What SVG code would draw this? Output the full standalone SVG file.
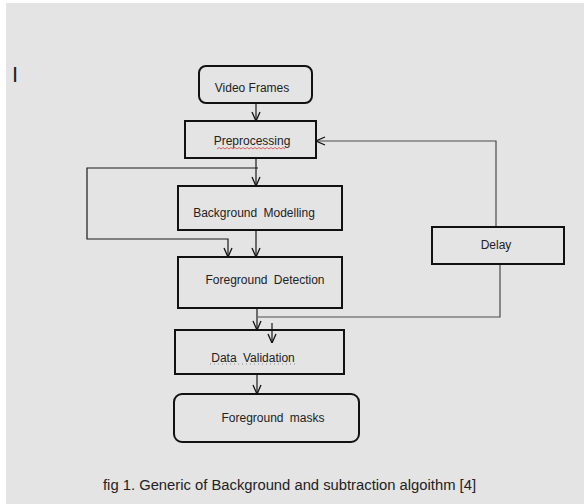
<svg xmlns="http://www.w3.org/2000/svg" width="584" height="504" viewBox="0 0 584 504">
  <defs>
    <marker id="arr" viewBox="0 0 10 10" refX="10" refY="5" markerWidth="10" markerHeight="10" markerUnits="userSpaceOnUse" orient="auto">
      <path d="M1,1 L10,5 L1,9" fill="none" stroke="#111" stroke-width="1.3"/>
    </marker>
    <style>
      .box { fill: none; stroke: #111; stroke-width: 2; }
      .lbl { font-family: "Liberation Sans", Arial, sans-serif; font-size: 12px; fill: #222; }
      .con { fill: none; stroke: #1a1a1a; stroke-width: 1.2; }
      .fb { fill: none; stroke: #4a4a4a; stroke-width: 1.2; }
    </style>
  </defs>
  <rect x="0" y="0" width="584" height="504" fill="#ffffff"/>
  <rect x="6" y="3" width="578" height="501" fill="#e4e4e4"/>

  <text x="12" y="82" font-family="Liberation Sans, Arial, sans-serif" font-size="22" fill="#222">I</text>

  <g id="connectors">
    <path class="con" d="M256,103 V121" marker-end="url(#arr)"/>
    <path class="con" d="M256,158 V186" marker-end="url(#arr)"/>
    <path class="con" d="M258,168 H87 V239 H228 V257" marker-end="url(#arr)"/>
    <path class="con" d="M256,230 V257" marker-end="url(#arr)"/>
    <path class="con" d="M257,308 V330" marker-end="url(#arr)"/>
    <path class="con" d="M272,323 V343" marker-end="url(#arr)"/>
    <path class="con" d="M257,374 V394" marker-end="url(#arr)"/>
    <path class="fb" d="M496,227 V141 H316" marker-end="url(#arr)"/>
    <path class="fb" d="M500,264 V317 H258"/>
  </g>

  <g id="video-frames">
    <rect class="box" x="199" y="66" width="113" height="37" rx="7"/>
    <text class="lbl" x="252" y="92" text-anchor="middle">Video Frames</text>
  </g>

  <g id="preprocessing">
    <rect class="box" x="185" y="121" width="131" height="37"/>
    <text class="lbl" x="252" y="145" text-anchor="middle">Preprocessing</text>
    <path d="M217,149 l2,-1.5 l2,1.5 l2,-1.5 l2,1.5 l2,-1.5 l2,1.5 l2,-1.5 l2,1.5 l2,-1.5 l2,1.5 l2,-1.5 l2,1.5 l2,-1.5 l2,1.5 l2,-1.5 l2,1.5 l2,-1.5 l2,1.5 l2,-1.5 l2,1.5 l2,-1.5 l2,1.5 l2,-1.5 l2,1.5 l2,-1.5 l2,1.5 l2,-1.5 l2,1.5 l2,-1.5 l2,1.5 l2,-1.5 l2,1.5 l2,-1.5 l2,1.5" fill="none" stroke="#d04040" stroke-width="0.8"/>
  </g>

  <g id="background-modelling">
    <rect class="box" x="178" y="186" width="164" height="44"/>
    <text class="lbl" x="254" y="217" text-anchor="middle" word-spacing="3">Background Modelling</text>
  </g>

  <g id="foreground-detection">
    <rect class="box" x="178" y="257" width="164" height="51"/>
    <text class="lbl" x="265" y="284" text-anchor="middle" word-spacing="3">Foreground Detection</text>
  </g>

  <g id="delay">
    <rect class="box" x="432" y="227" width="132" height="37"/>
    <text class="lbl" x="496" y="249" text-anchor="middle">Delay</text>
  </g>

  <g id="data-validation">
    <rect class="box" x="175" y="330" width="169" height="44"/>
    <text class="lbl" x="253" y="362" text-anchor="middle" word-spacing="3">Data Validation</text>
    <line x1="210" y1="364" x2="296" y2="364" stroke="#777" stroke-width="0.8" stroke-dasharray="1,3"/>
  </g>

  <g id="foreground-masks">
    <rect class="box" x="174" y="394" width="185" height="48" rx="8"/>
    <text class="lbl" x="273" y="422" text-anchor="middle" word-spacing="3">Foreground masks</text>
  </g>

  <text x="103" y="490" font-family="Liberation Sans, Arial, sans-serif" font-size="14" fill="#222" textLength="373" lengthAdjust="spacingAndGlyphs">fig 1. Generic of Background and subtraction algoithm [4]</text>
</svg>
